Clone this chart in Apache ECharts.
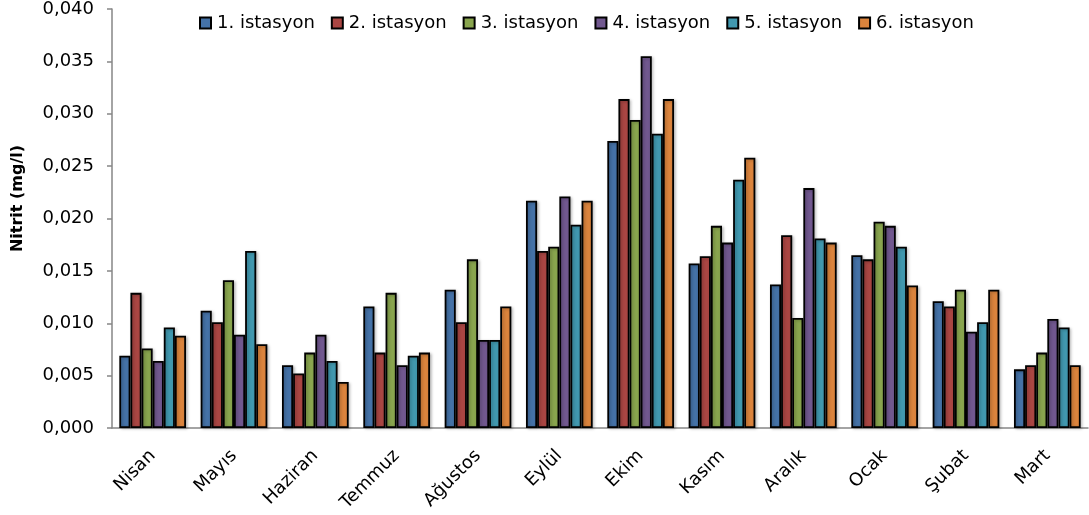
<!DOCTYPE html>
<html>
<head>
<meta charset="utf-8">
<script src="https://cdn.jsdelivr.net/npm/echarts@6/dist/echarts.min.js"></script>
<style>
  html, body { margin: 0; padding: 0; background: #ffffff; }
  #chart { width: 1089px; height: 515px; }
</style>
</head>
<body>
<div id="chart"></div>
<script>
// Months of the sampling year
const months = ['Nisan', 'Mayıs', 'Haziran', 'Temmuz', 'Ağustos', 'Eylül', 'Ekim', 'Kasım', 'Aralık', 'Ocak', 'Şubat', 'Mart'];

// Nitrite (mg/l) measured at each station
const istasyon1 = [0.0069, 0.0112, 0.0060, 0.0116, 0.0132, 0.0217, 0.0274, 0.0157, 0.0137, 0.0165, 0.0121, 0.0056];
const istasyon2 = [0.0129, 0.0101, 0.0052, 0.0072, 0.0101, 0.0169, 0.0314, 0.0164, 0.0184, 0.0161, 0.0116, 0.0060];
const istasyon3 = [0.0076, 0.0141, 0.0072, 0.0129, 0.0161, 0.0173, 0.0294, 0.0193, 0.0105, 0.0197, 0.0132, 0.0072];
const istasyon4 = [0.0064, 0.0089, 0.0089, 0.0060, 0.0084, 0.0221, 0.0355, 0.0177, 0.0229, 0.0193, 0.0092, 0.0104];
const istasyon5 = [0.0096, 0.0169, 0.0064, 0.0069, 0.0084, 0.0194, 0.0281, 0.0237, 0.0181, 0.0173, 0.0101, 0.0096];
const istasyon6 = [0.0088, 0.0080, 0.0044, 0.0072, 0.0116, 0.0217, 0.0314, 0.0258, 0.0177, 0.0136, 0.0132, 0.0060];

const stationNames = ['1. istasyon', '2. istasyon', '3. istasyon', '4. istasyon', '5. istasyon', '6. istasyon'];
const stationValues = [istasyon1, istasyon2, istasyon3, istasyon4, istasyon5, istasyon6];
const stationColors = ['#4572A7', '#AA4643', '#89A54E', '#71588F', '#4198AF', '#DB843D'];

const FONT = 'DejaVu Sans';

const chart = echarts.init(document.getElementById('chart'), null, { renderer: 'canvas' });

chart.setOption({
  animation: false,
  backgroundColor: '#ffffff',
  grid: { left: 112, right: 1, top: 8, bottom: 87, containLabel: false },
  legend: {
    top: 9,
    left: 194,
    itemWidth: 11,
    itemHeight: 11,
    itemGap: 16,
    icon: 'rect',
    textStyle: { fontFamily: FONT, fontSize: 18, color: '#000000', padding: [0, 0, 0, 1] },
    data: stationNames
  },
  xAxis: {
    type: 'category',
    data: months,
    axisLine: { lineStyle: { color: '#868686', width: 1.5 } },
    axisTick: { show: false },
    axisLabel: {
      rotate: 45,
      interval: 0,
      margin: 25,
      fontFamily: FONT,
      fontSize: 18,
      color: '#000000'
    }
  },
  yAxis: {
    type: 'value',
    min: 0,
    max: 0.04,
    interval: 0.005,
    name: 'Nitrit (mg/l)',
    nameLocation: 'middle',
    nameGap: 86,
    nameTextStyle: {
      fontFamily: FONT,
      fontSize: 16,
      fontWeight: 'bold',
      color: '#000000',
      padding: [0, 0, 0, 40]
    },
    axisLine: { show: true, lineStyle: { color: '#868686', width: 1.5 } },
    axisTick: { show: true, inside: false, length: 5, lineStyle: { color: '#868686', width: 1.5 } },
    splitLine: { show: false },
    axisLabel: {
      margin: 18,
      fontFamily: FONT,
      fontSize: 18,
      color: '#000000',
      formatter: v => v.toFixed(3).replace('.', ',')
    }
  },
  series: stationNames.map((name, i) => ({
    name: name,
    type: 'bar',
    data: stationValues[i],
    barGap: '0%',
    barCategoryGap: '18%',
    itemStyle: {
      color: stationColors[i],
      borderColor: '#000000',
      borderWidth: 1.8,
      shadowColor: 'rgba(0,0,0,0.25)',
      shadowBlur: 3,
      shadowOffsetX: 1.5,
      shadowOffsetY: 1
    }
  }))
});
</script>
</body>
</html>
